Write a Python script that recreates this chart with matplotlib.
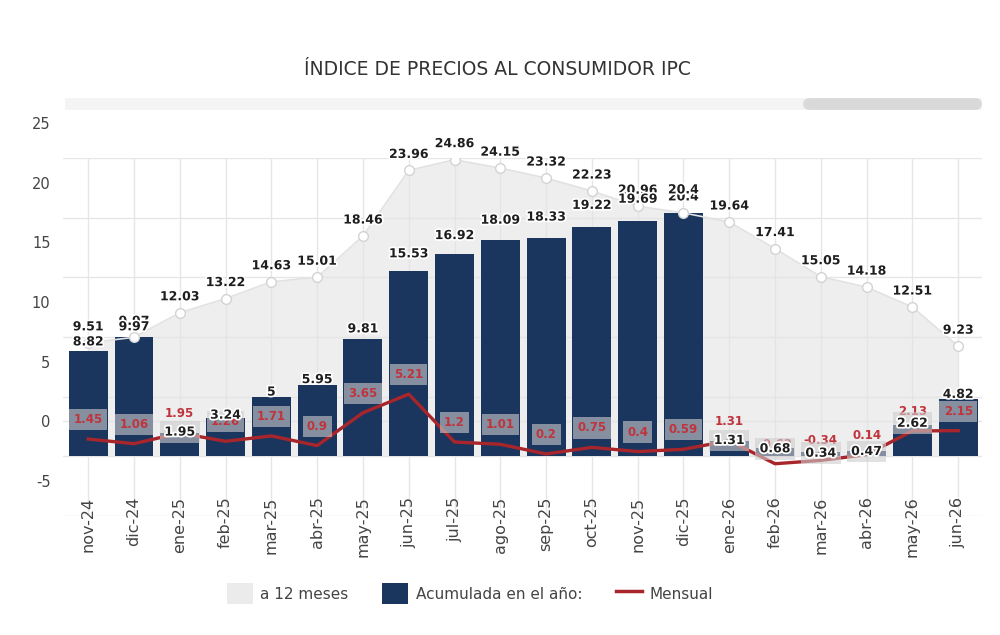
import matplotlib
matplotlib.use('Agg')
import matplotlib.pyplot as plt
from matplotlib.transforms import ScaledTranslation
import matplotlib.patheffects as pe
from matplotlib.patches import Patch, Rectangle
from matplotlib.lines import Line2D

plt.rcParams['axes.unicode_minus'] = False

categories = ['nov-24', 'dic-24', 'ene-25', 'feb-25', 'mar-25', 'abr-25', 'may-25',
              'jun-25', 'jul-25', 'ago-25', 'sep-25', 'oct-25', 'nov-25', 'dic-25',
              'ene-26', 'feb-26', 'mar-26', 'abr-26', 'may-26', 'jun-26']
a12 = [9.51, 9.97, 12.03, 13.22, 14.63, 15.01, 18.46, 23.96, 24.86, 24.15,
       23.32, 22.23, 20.96, 20.4, 19.64, 17.41, 15.05, 14.18, 12.51, 9.23]
acum = [8.82, 9.97, 1.95, 3.24, 5, 5.95, 9.81, 15.53, 16.92, 18.09,
        18.33, 19.22, 19.69, 20.4, 1.31, 0.68, 0.34, 0.47, 2.62, 4.82]
mens = [1.45, 1.06, 1.95, 1.26, 1.71, 0.9, 3.65, 5.21, 1.2, 1.01,
        0.2, 0.75, 0.4, 0.59, 1.31, -0.62, -0.34, 0.14, 2.13, 2.15]
yticks = [-5, 0, 5, 10, 15, 20, 25]

NAVY = '#1a355e'
RED_LINE = '#a8262b'
RED_TXT = '#c0343c'
GRID = '#e6e6e6'
TXT = '#1e1e1e'

fig = plt.figure(figsize=(10, 6.35), dpi=100)
ax = fig.add_axes([0.063, 0.1874, 0.919, 0.5638])
x = list(range(len(categories)))
ax.set_xlim(-0.55, 19.52)
ax.set_ylim(-5, 25)

ax.fill_between(x, 0, a12, color='#e4e4e4', alpha=0.6, lw=0, zorder=1)
ax.bar(x, acum, width=0.85, color=NAVY, zorder=2)
ax.plot(x, a12, color='#e2e2e2', lw=1.2, marker='o', ms=7, mfc='white',
        mec='#d3d3d3', mew=1, zorder=2.5)
ax.plot(x, mens, color=RED_LINE, lw=2.4, zorder=3)

ax.set_yticks(yticks)
ax.set_xticks(x, categories, rotation=90)
ax.grid(True, color=GRID, lw=1)
ax.set_axisbelow(True)
for s in ax.spines.values():
    s.set_visible(False)
ax.tick_params(axis='both', length=0, labelcolor='#444')
ax.tick_params(axis='y', pad=9, labelsize=10.5)
ax.tick_params(axis='x', pad=-14, labelsize=11.5)

off = ScaledTranslation(0, 0.35, fig.dpi_scale_trans)
for t in ax.get_yticklabels():
    t.set_transform(t.get_transform() + off)
ax.plot([0, 1], [0, 0], transform=ax.get_yaxis_transform() + off,
        color=GRID, lw=1, zorder=0.5)

stroke = [pe.withStroke(linewidth=2.5, foreground='white')]
box = dict(boxstyle='square,pad=0.35', fc='#cdcdcd', ec='none', alpha=0.6)

# 12-month labels
for i, v in enumerate(a12):
    ax.annotate(f'{v:g}', (i, v), xytext=(0, 11.5), textcoords='offset points',
                ha='center', va='center', fontsize=9, fontweight='bold',
                color=TXT, path_effects=stroke, zorder=5)

# monthly labels
for i, (m, a) in enumerate(zip(mens, acum)):
    inside = m + 1.6 < a
    ax.annotate(f'{m:g}', (i, m), xytext=(0, 14), textcoords='offset points',
                ha='center', va='center', fontsize=8.5, fontweight='bold',
                color=RED_TXT, zorder=6, bbox=box if inside else None)

# accumulated labels (separate label scale)
ax_lab = ax.twinx()
ax_lab.set_ylim(-4.44, 22.83)
ax_lab.set_axis_off()
for i, (m, a) in enumerate(zip(mens, acum)):
    inside = m + 1.6 < a
    ax_lab.text(i, a, f'{a:g}', ha='center', va='center', fontsize=9,
                fontweight='bold', color=TXT, path_effects=stroke, zorder=6,
                bbox=None if inside else box)

fig.text(0.497, 0.89, 'ÍNDICE DE PRECIOS AL CONSUMIDOR IPC', ha='center',
         va='center', fontsize=13.5, color='#333')

fig.add_artist(Rectangle((0.065, 0.826), 0.917, 0.019, transform=fig.transFigure,
                         fc='#f4f4f4', ec='none'))
fig.add_artist(Line2D([0.809, 0.976], [0.8355, 0.8355], transform=fig.transFigure,
                      lw=8.5, color='#d9d9d9', solid_capstyle='round'))

handles = [Patch(facecolor='#ebebeb', edgecolor='none'),
           Patch(facecolor=NAVY, edgecolor='none'),
           Line2D([], [], color=RED_LINE, lw=2.5)]
fig.legend(handles, ['a 12 meses', 'Acumulada en el año:', 'Mensual'],
           loc='center', bbox_to_anchor=(0.47, 0.065), ncol=3, frameon=False,
           fontsize=11, handlelength=1.7, handleheight=1.7, columnspacing=2.2,
           handletextpad=0.5, labelcolor='#444')

fig.savefig('out.png', dpi=100)
